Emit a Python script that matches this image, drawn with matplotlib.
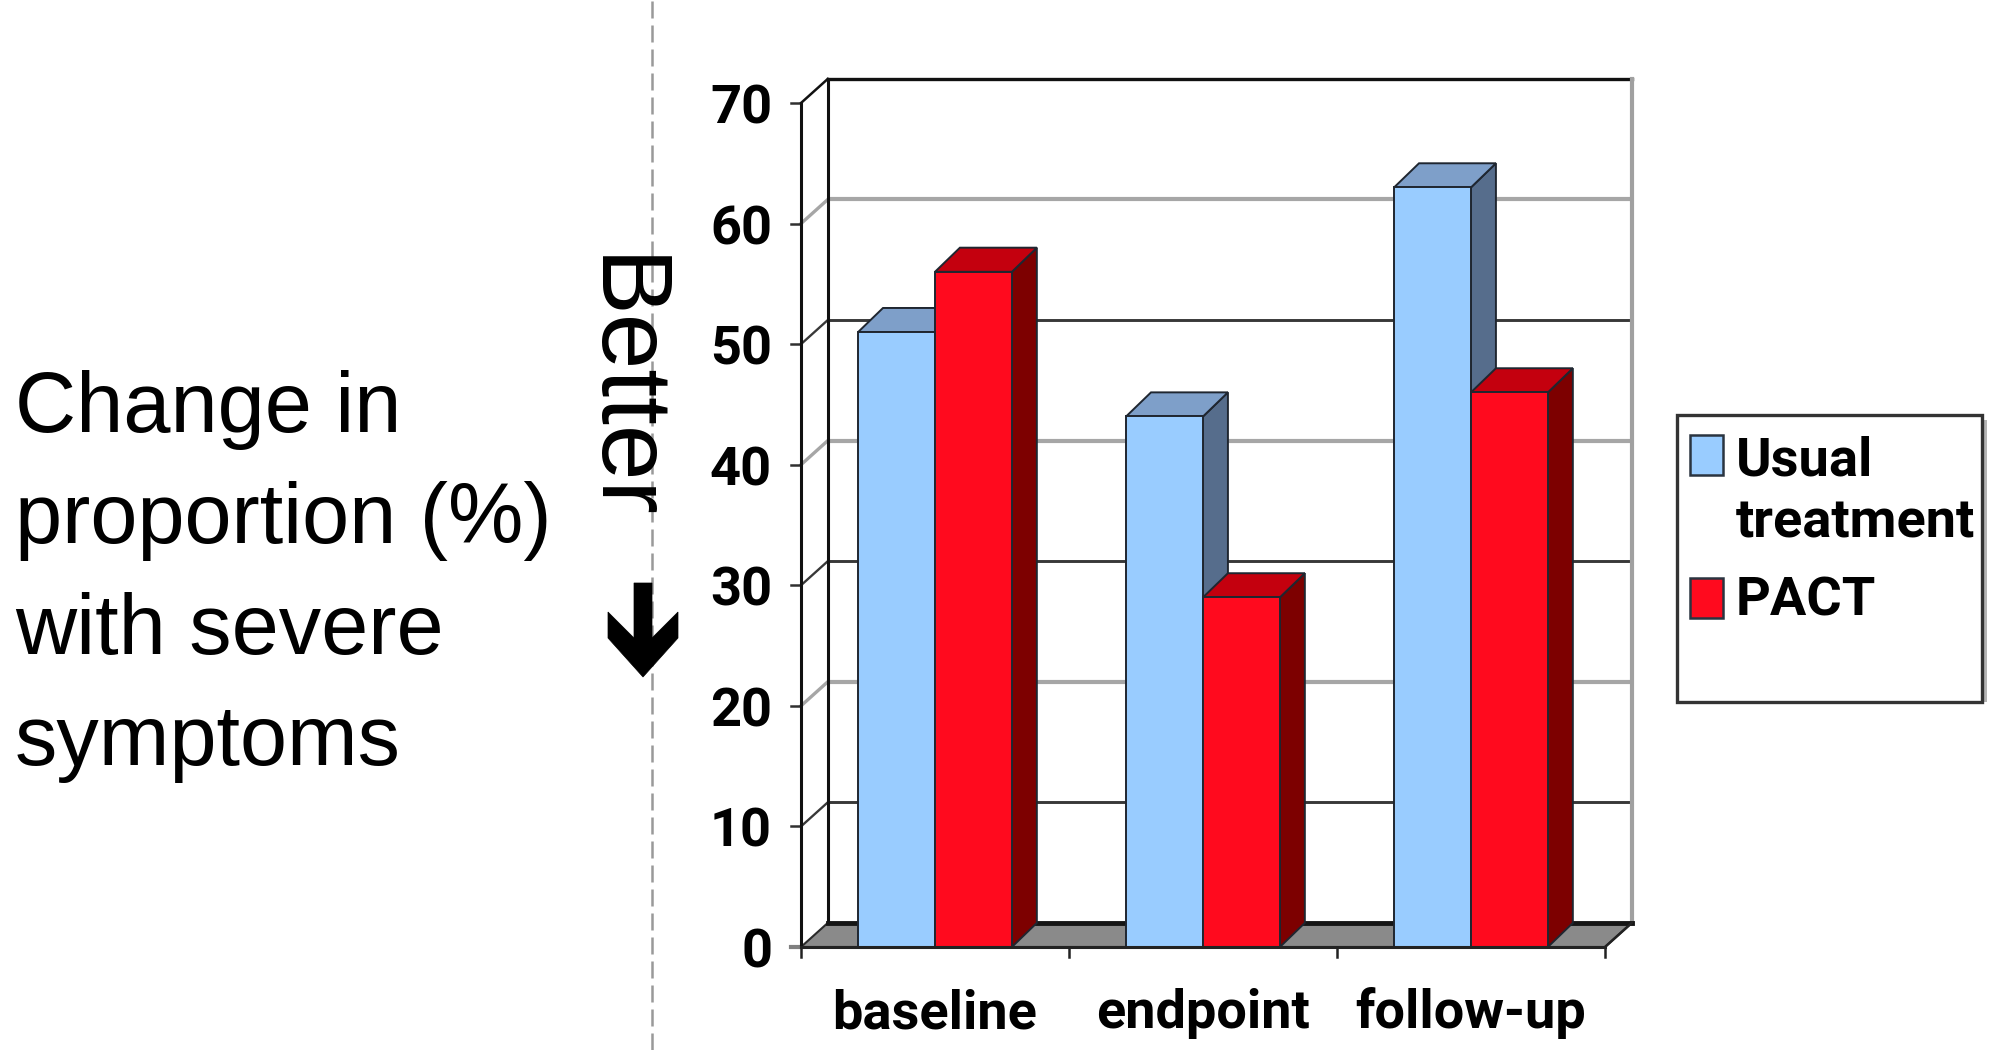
import matplotlib
matplotlib.use("Agg")
import matplotlib.pyplot as plt
from matplotlib.patches import Polygon, Rectangle
from matplotlib.lines import Line2D

# ---------------------------------------------------------------- data
categories = ["baseline", "endpoint", "follow-up"]
series_names = ["Usual\ntreatment", "PACT"]
usual = [51, 44, 63]
pact = [56, 29, 46]
yticks = [0, 10, 20, 30, 40, 50, 60, 70]
side_lines = ["Change in", "proportion (%)", "with severe", "symptoms"]
better_label = "Better"

# face colours: front, top, side
styles = [
    ("#99CCFF", "#7E9FC9", "#566D8C"),
    ("#FF0A1E", "#C4000E", "#7D0000"),
]
EDGE = "#1f2630"

W, H = 1995, 1050
fig = plt.figure(figsize=(W / 100, H / 100), dpi=100)


def fx(px):
    return px / W


def fy(py):
    return 1 - py / H


# the original uses a narrow bold face; Roboto bold is the closest installed
BOLD = dict(family=["Roboto", "Liberation Sans", "DejaVu Sans"],
            fontweight="bold", fontsize=39)

# front plane of the 3-D box: x 801..1605 px, y 947 (0) .. 103 (70) px
ax = fig.add_axes([fx(801), fy(947), fx(1605) - fx(801), fy(103) - fy(947)])
ax.set_xlim(0, 3)
ax.set_ylim(0, 70)
ax.axis("off")

DX, DY = 0.1, 2.0      # wall depth (category units, value units)
BDX, BDY = 0.093, 2.0  # bar depth
BW = 0.287             # bar width
n = len(categories)
ytop = yticks[-1]

# ---------------------------------------------------------------- walls
for v in yticks[1:-1]:
    light = v % 20 == 0
    col = "#a6a6a6" if light else "#383838"
    lw = 3.0 if light else 2.1
    ax.plot([DX, n + DX], [v + DY, v + DY], color=col, lw=lw, zorder=1,
            clip_on=False, solid_capstyle="butt")
    ax.plot([0, DX], [v, v + DY], color=col, lw=lw * 0.8, zorder=1, clip_on=False)
    ax.plot([-0.037, 0], [v, v], color="#303030", lw=1.8, zorder=10, clip_on=False)

ax.plot([DX, n + DX], [ytop + DY, ytop + DY], color="#111111", lw=2.4, zorder=2,
        clip_on=False)
ax.plot([DX, DX], [DY, ytop + DY], color="#111111", lw=2.2, zorder=2, clip_on=False)
ax.plot([n + DX, n + DX], [DY, ytop + DY], color="#a0a0a0", lw=3.0, zorder=2,
        clip_on=False)
ax.plot([0, DX], [ytop, ytop + DY], color="#111111", lw=1.8, zorder=2, clip_on=False)
ax.plot([-0.037, 0], [ytop, ytop], color="#303030", lw=1.8, zorder=10, clip_on=False)
ax.plot([-0.037, 0], [0, 0], color="#808080", lw=3, zorder=10, clip_on=False)

# floor
ax.add_patch(Polygon([(0, 0), (n, 0), (n + DX, DY), (DX, DY)], closed=True,
                     facecolor="#8a8a8a", edgecolor="#2a2a2a", lw=1.5, zorder=2,
                     clip_on=False))
ax.plot([DX, n + DX], [DY, DY], color="#151515", lw=3.5, zorder=2.1, clip_on=False)

# front y axis
ax.plot([0, 0], [0, ytop], color="#111111", lw=2.2, zorder=10, clip_on=False)
for v in yticks:
    ax.text(-0.108, v - 1.7, str(v), ha="right", va="baseline", **BOLD)

# ---------------------------------------------------------------- bars
z = 3
for j, vals in enumerate([usual, pact]):
    front, top, side = styles[j]
    for i, v in enumerate(vals):
        x0 = i + 0.5 - BW + j * BW
        zz = z + i * 10 + j * 3
        ax.add_patch(Polygon([(x0 + BW, 0), (x0 + BW + BDX, BDY),
                              (x0 + BW + BDX, v + BDY), (x0 + BW, v)],
                             closed=True, facecolor=side, edgecolor=EDGE, lw=1.4,
                             zorder=zz, clip_on=False))
        ax.add_patch(Polygon([(x0, v), (x0 + BW, v), (x0 + BW + BDX, v + BDY),
                              (x0 + BDX, v + BDY)],
                             closed=True, facecolor=top, edgecolor=EDGE, lw=1.4,
                             zorder=zz + 1, clip_on=False))
        ax.bar(x0, v, BW, align="edge", color=front, edgecolor=EDGE, lw=1.4,
               zorder=zz + 2, clip_on=False)

# ---------------------------------------------------------------- x axis
ax.plot([0, n], [0, 0], color="#222222", lw=2.2, zorder=50, clip_on=False)
ax.plot([n, n + DX], [0, DY], color="#222222", lw=1.8, zorder=50, clip_on=False)
for k in range(n + 1):
    ax.plot([k, k], [0, -0.83], color="#222222", lw=1.8, zorder=50, clip_on=False)
for i, c in enumerate(categories):
    ax.text(i + 0.5, -6.72, c, ha="center", va="baseline", **BOLD)

# ---------------------------------------------------------------- legend
# faint shadow on the right edge, then the box itself
fig.add_artist(Rectangle((fx(1982), fy(702)), fx(5), fy(420) - fy(702),
                         transform=fig.transFigure, facecolor="#b5b5b5",
                         edgecolor="none"))
fig.add_artist(Rectangle((fx(1677), fy(702)), fx(1982) - fx(1677), fy(415) - fy(702),
                         transform=fig.transFigure, facecolor="white",
                         edgecolor="#333333", lw=2.4))
leg_sq_top = [435, 578]
leg_txt_base = [475, 615]
for j, name in enumerate(series_names):
    fig.add_artist(Rectangle((fx(1690), fy(leg_sq_top[j] + 40)), fx(33), 40 / H,
                             transform=fig.transFigure, facecolor=styles[j][0],
                             edgecolor="#2a3440", lw=1.8))
    for k, part in enumerate(name.split("\n")):
        fig.text(fx(1736), fy(leg_txt_base[j] + 62 * k), part, ha="left",
                 va="baseline", **BOLD)

# ---------------------------------------------------------------- annotations
fig.add_artist(Line2D([fx(652), fx(652)], [0, 1], transform=fig.transFigure,
                      color="#999999", lw=1.8, dashes=(6.8, 2.8), zorder=0))

for k, line in enumerate(side_lines):
    fig.text(fx(15), fy(432 + 111 * k), line, ha="left", va="baseline",
             family=["Liberation Sans", "DejaVu Sans"], fontsize=61)

fig.text(fx(620), fy(388), better_label, rotation=270, ha="center", va="center",
         family=["Liberation Sans", "DejaVu Sans"], fontsize=72)

arrow_px = [(634, 583), (652, 583), (652, 638), (678, 612), (678, 638),
            (643, 677), (608, 638), (608, 612), (634, 638)]
fig.add_artist(Polygon([(fx(a), fy(b)) for a, b in arrow_px], closed=True,
                       transform=fig.transFigure, facecolor="black",
                       edgecolor="black", lw=0.5))

fig.savefig("out.png", dpi=100, facecolor="white")
